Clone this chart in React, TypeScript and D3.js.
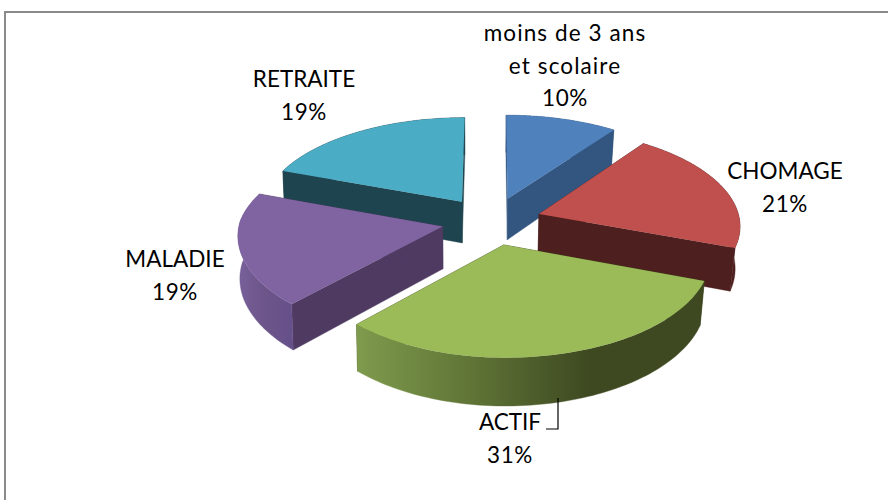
import React from "react";
import * as d3 from "d3";

const categories = ["moins de 3 ans et scolaire", "CHOMAGE", "ACTIF", "MALADIE", "RETRAITE"];
const values = [10, 20.6, 31.4, 18.6, 19.4];
const topColors = ["#4f81bd", "#c0504d", "#9bbb59", "#8064a2", "#4bacc6"];
const wallColors = ["#335681", "#4d1f1e", "#3f4a20", "#4f3b62", "#1e444f"];
const rimStops = [
  ["#335681", "#335681"],
  ["#4d1f1e", "#4d1f1e"],
  ["#7f9b4d", "#5f7436", "#3e4921", "#3e4921"],
  ["#78609a", "#6c5589", "#66508a"],
  ["#1e444f", "#1e444f"],
];
const labelLines = [
  ["moins de 3 ans", "et scolaire", "10%"],
  ["CHOMAGE", "21%"],
  ["ACTIF", "31%"],
  ["MALADIE", "19%"],
  ["RETRAITE", "19%"],
];
const labelX = [565, 785, 510, 175, 304];
const labelY = [41, 179, 430, 267, 87];
const paintOrder = [4, 0, 3, 1, 2];
const sliceNudge = [2.5, 1.5, 2, 1.5, 0];
const sliceRadius = [1, 0.99, 0.985, 1, 1];

const W = 888, H = 500;
const cx = 490, cy = 221;
const R = 203, EX = 50, K = 0.478, A = 0.000525, DEPTH = 42, FRONT_LEFT = 0.03;
const CONV_LEFT = 0.992, CONV_RIGHT = 0.98;

const pie = d3.pie<number>().sort(null);
const arcs = pie(values);

function project(wx: number, wy: number, low: boolean, nudge: number): [number, number] {
  const s = 1 / (1 - A * wy);
  const squeeze = wx < 0 && wy > 0 ? 1 - (FRONT_LEFT * wy) / 200 : 1;
  const conv = low ? (wx < 0 ? CONV_LEFT : CONV_RIGHT) : 1;
  const x = wx * squeeze * s * conv;
  const y = wy * K * s + (low ? DEPTH * s : 0);
  return [cx + nudge + x, cy + y];
}

const line = d3.line();

function Slice({ i }: { i: number }) {
  const a = arcs[i];
  const mid = (a.startAngle + a.endAngle) / 2;
  const ox = EX * Math.sin(mid);
  const oy = -EX * Math.cos(mid);
  const n = 80;
  const nudge = sliceNudge[i];
  const r = R * sliceRadius[i];
  const angles = d3.range(n + 1).map((k) => a.startAngle + ((a.endAngle - a.startAngle) * k) / n);
  const rim = (low: boolean) =>
    angles.map((t) => project(ox + r * Math.sin(t), oy - r * Math.cos(t), low, nudge));
  const top = rim(false);
  const bot = rim(true);
  const apex = project(ox, oy, false, nudge);
  const apexLow = project(ox, oy, true, nudge);
  const xs = top.map((p) => p[0]);
  const x0 = d3.min(xs)!, x1 = d3.max(xs)!;
  const gid = `rim-${i}`;
  const stops = rimStops[i];
  return (
    <g>
      <defs>
        <linearGradient id={gid} gradientUnits="userSpaceOnUse" x1={x0} x2={x1} y1={0} y2={0}>
          {stops.map((c, k) => (
            <stop key={k} offset={k / (stops.length - 1)} stopColor={c} />
          ))}
        </linearGradient>
      </defs>
      <path d={line([apex, top[0], bot[0], apexLow]) + "Z"} fill={wallColors[i]} stroke={wallColors[i]} strokeWidth={0.4} />
      <path d={line([apex, top[n], bot[n], apexLow]) + "Z"} fill={wallColors[i]} stroke={wallColors[i]} strokeWidth={0.4} />
      <path d={line([...top, ...[...bot].reverse()]) + "Z"} fill={`url(#${gid})`} stroke={`url(#${gid})`} strokeWidth={0.4} />
      <path d={line([apex, ...top]) + "Z"} fill={topColors[i]} />
    </g>
  );
}

export default function App() {
  return (
    <svg
      width={W}
      height={H}
      viewBox={`0 0 ${W} ${H}`}
      style={{ position: "absolute", left: 0, top: 0, background: "#fff" }}
      aria-label={categories.join(", ")}
    >
      <path d={`M5 ${H}V12H${W}`} fill="none" stroke="#8a8a8a" strokeWidth={2} />
      {paintOrder.map((i) => (
        <Slice key={i} i={i} />
      ))}
      <path d="M558 398V429H546" fill="none" stroke="#000" strokeWidth={1.2} />
      {labelLines.map((lines, i) => (
        <text
          key={i}
          textAnchor="middle"
          fontFamily="Lato, 'Open Sans', sans-serif"
          fontSize={22.5}
          fill="#000"
        >
          {lines.map((t, j) => {
            const spacing = /%/.test(t) ? 0.6 : /[a-z]/.test(t) ? 1.1 : 0;
            return (
              <tspan key={j} x={labelX[i]} y={labelY[i] + j * 32.7} letterSpacing={spacing}>
                {t}
              </tspan>
            );
          })}
        </text>
      ))}
    </svg>
  );
}
